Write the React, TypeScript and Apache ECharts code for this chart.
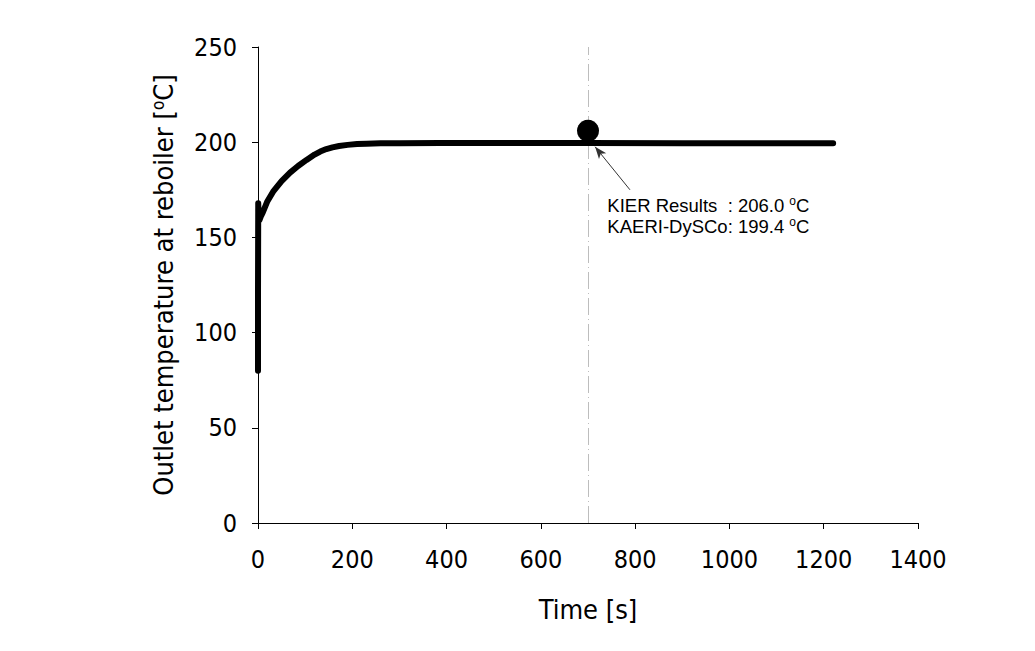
import React, { useEffect, useRef } from "react";
import * as echarts from "echarts";

const timeS = [0, 0, 0.5, 1.5, 3, 6, 10, 20, 32, 50, 68, 85, 103, 120, 132, 145, 158, 172, 190, 210, 230, 260, 300, 386, 500, 700, 900, 1100, 1220];
const tempC = [80, 120, 168, 160, 159, 161, 163, 169, 174, 179.5, 184, 187.5, 190.7, 193.5, 195.1, 196.4, 197.3, 198, 198.6, 199, 199.2, 199.4, 199.5, 199.6, 199.6, 199.6, 199.5, 199.5, 199.5];

const kierPoint = [700, 206.0];
const kaeriValue = 199.4;
const kierValue = 206.0;
const xTicks = { min: 0, max: 1400, interval: 200 };
const yTicks = { min: 0, max: 250, interval: 50 };
const markTime = 700;
const arrowTail = [789, 175];
const arrowTip = [715, 197.6];
const noteAnchor = [740, 161];

const NARROW = "'Liberation Sans Narrow', 'DejaVu Sans Condensed', 'Arial Narrow', sans-serif";
const SANS = "'Liberation Sans', Arial, sans-serif";

export default function App() {
  const ref = useRef<HTMLDivElement>(null);
  useEffect(() => {
    if (!ref.current) return;
    const chart = echarts.init(ref.current, undefined, { renderer: "svg" });
    const line = timeS.map((t, i) => [t, tempC[i]]);
    chart.setOption({
      animation: false,
      backgroundColor: "#ffffff",
      grid: { left: 258, right: 117, top: 47, bottom: 128, containLabel: false },
      xAxis: {
        type: "value",
        min: xTicks.min,
        max: xTicks.max,
        interval: xTicks.interval,
        name: "Time [s]",
        nameLocation: "middle",
        nameGap: 73,
        nameTextStyle: { fontFamily: NARROW, fontSize: 27, color: "#000" },
        axisLine: { show: true, onZero: false, lineStyle: { color: "#000", width: 1 } },
        axisTick: { show: true, inside: false, length: 6, lineStyle: { color: "#000" } },
        axisLabel: { fontFamily: NARROW, fontSize: 25, color: "#000", margin: 24, formatter: (v: number) => String(v) },
        splitLine: { show: false },
      },
      yAxis: {
        type: "value",
        min: yTicks.min,
        max: yTicks.max,
        interval: yTicks.interval,
        name: "Outlet temperature at reboiler [{sup|o}C]",
        nameLocation: "middle",
        nameRotate: 90,
        nameGap: 80,
        nameTextStyle: {
          fontFamily: NARROW,
          fontSize: 27,
          color: "#000",
          rich: {
            sup: { fontFamily: NARROW, fontSize: 17, color: "#000", verticalAlign: "top", padding: [0, 0, 12, 0] },
          },
        },
        axisLine: { show: true, lineStyle: { color: "#000", width: 1 } },
        axisTick: { show: true, inside: false, length: 6, lineStyle: { color: "#000" } },
        axisLabel: { fontFamily: NARROW, fontSize: 25, color: "#000", margin: 21, formatter: (v: number) => String(v) },
        splitLine: { show: false },
      },
      series: [
        {
          type: "line",
          data: line,
          showSymbol: false,
          smooth: false,
          lineStyle: { color: "#000", width: 6, cap: "round", join: "round" },
          z: 3,
          markLine: {
            silent: true,
            symbol: ["none", "none"],
            label: { show: false },
            lineStyle: { color: "#bdbdbd", width: 1, type: [17, 4, 1, 4] },
            data: [{ xAxis: markTime }],
            z: 1,
          },
        },
        {
          type: "scatter",
          data: [kierPoint],
          symbol: "circle",
          symbolSize: 22,
          itemStyle: { color: "#000", opacity: 1 },
          z: 5,
          markLine: {
            silent: true,
            symbol: ["none", "arrow"],
            symbolSize: [7, 12],
            label: { show: false },
            lineStyle: { color: "#333", width: 1, type: "solid", opacity: 1 },
            data: [[{ coord: arrowTail }, { coord: arrowTip }]],
          },
        },
        {
          type: "scatter",
          data: [noteAnchor],
          symbolSize: 1,
          itemStyle: { color: "#fff", opacity: 0 },
          silent: true,
          z: 6,
          label: {
            show: true,
            position: "right",
            distance: 0,
            align: "left",
            verticalAlign: "middle",
            fontFamily: SANS,
            fontSize: 18.5,
            lineHeight: 21,
            color: "#000",
            opacity: 1,
            formatter: () =>
              `{t|KIER Results  : ${kierValue.toFixed(1)} }{s|o}{t|C}\n{t|KAERI-DySCo: ${kaeriValue.toFixed(1)} }{s|o}{t|C}`,
            rich: {
              t: { fontFamily: SANS, fontSize: 18.5, lineHeight: 21, color: "#000" },
              s: { fontFamily: SANS, fontSize: 12, lineHeight: 21, color: "#000", verticalAlign: "top", padding: [0, 0, 8, 0] },
            },
          },
        },
      ],
    });
    return () => chart.dispose();
  }, []);
  return <div ref={ref} style={{ width: 1035, height: 651, margin: -8 }} />;
}
